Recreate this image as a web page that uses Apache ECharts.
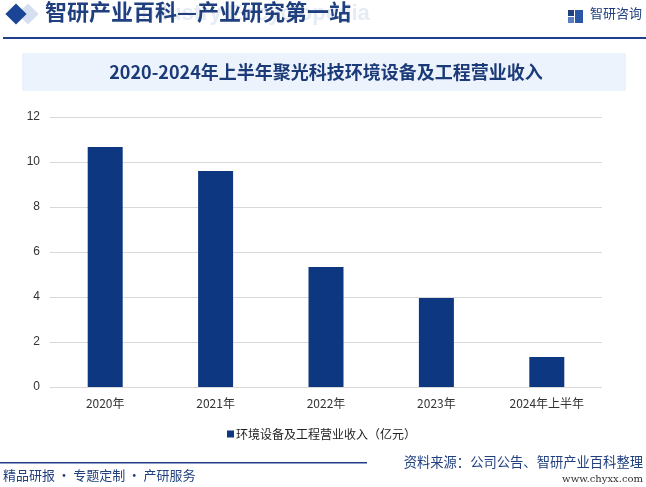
<!DOCTYPE html>
<html>
<head>
<meta charset="utf-8">
<script src="https://cdn.jsdelivr.net/npm/echarts@6/dist/echarts.min.js"></script>
<style>
html,body{margin:0;padding:0;background:#fff;}
#c{width:646px;height:487px;}
</style>
</head>
<body>
<div id="c"></div>
<script>
var categories = ['2020年', '2021年', '2022年', '2023年', '2024年上半年'];
var revenue = [10.67, 9.6, 5.33, 3.96, 1.33];
var seriesName = '环境设备及工程营业收入（亿元）';
var yTicks = {min: 0, max: 12, interval: 2};

var CJK = '"Noto Sans CJK SC", "Noto Sans", sans-serif';
var chart = echarts.init(document.getElementById('c'));
chart.setOption({
  animation: false,
  backgroundColor: '#ffffff',
  grid: {left: 50, right: 44, top: 117, bottom: 100, containLabel: false},
  legend: {
    data: [seriesName],
    left: 222,
    top: 423,
    icon: 'rect',
    itemWidth: 7,
    itemHeight: 7,
    itemGap: 4,
    textStyle: {fontFamily: CJK, fontSize: 12, color: '#222', padding: [0,0,0,-3]}
  },
  xAxis: {
    type: 'category',
    data: categories,
    axisLine: {show: false},
    axisTick: {show: false},
    axisLabel: {fontFamily: CJK, fontSize: 12, color: '#333', margin: 10}
  },
  yAxis: {
    type: 'value',
    min: yTicks.min, max: yTicks.max, interval: yTicks.interval,
    axisLine: {show: false},
    axisTick: {show: false},
    axisLabel: {fontFamily: 'Arial, "Liberation Sans", sans-serif', fontSize: 12, color: '#333', margin: 10},
    splitLine: {lineStyle: {color: '#d9d9d9', width: 1}}
  },
  series: [{
    name: seriesName,
    type: 'bar',
    data: revenue,
    barWidth: 35,
    itemStyle: {color: '#0e3782'}
  }],
  graphic: [
    // header diamonds
    {type: 'rect', shape: {x: -7.5, y: -7.5, width: 15, height: 15}, x: 28, y: 14, rotation: Math.PI/4, style: {fill: '#d6dff0'}},
    {type: 'rect', shape: {x: -7.5, y: -7.5, width: 15, height: 15}, x: 16, y: 14, rotation: Math.PI/4, style: {fill: '#1a4597'}},
    // watermark
    {type: 'text', left: 135, top: 3, style: {text: 'Industry Encyclopedia', font: 'bold 22px Arial, "Liberation Sans", sans-serif', fill: '#e6ecf5'}},
    {type: 'text', left: 45, top: 1, style: {text: '智研产业百科—产业研究第一站', font: 'bold 22px "Noto Sans CJK SC", sans-serif', fill: '#1f3f7e'}},
    // logo
    {type: 'rect', shape: {x: 568, y: 10, width: 6, height: 6}, style: {fill: '#1f3f7e'}},
    {type: 'rect', shape: {x: 568, y: 17, width: 6, height: 6}, style: {fill: '#5a7fc0'}},
    {type: 'rect', shape: {x: 575, y: 10, width: 8, height: 13}, style: {fill: '#2a56a8'}},
    {type: 'text', left: 590, top: 7, style: {text: '智研咨询', font: '13px "Noto Sans CJK SC", sans-serif', fill: '#1f3f7e'}},
    {type: 'rect', shape: {x: 3, y: 37, width: 643, height: 2}, style: {fill: '#1f3f8a'}},
    // title box
    {type: 'rect', shape: {x: 22, y: 53, width: 604, height: 38}, style: {fill: '#edf3fc'}},
    {type: 'text', x: 326, y: 72, style: {text: '2020-2024年上半年聚光科技环境设备及工程营业收入', font: 'bold 18px "Noto Sans CJK SC", sans-serif', fill: '#1b3a78', align: 'center', verticalAlign: 'middle'}},
    // footer
    {type: 'rect', shape: {x: 0, y: 462, width: 367, height: 1.5}, style: {fill: '#1f3f8a'}},
    {type: 'text', left: 3, top: 469, style: {text: '精品研报\u2009·\u2009专题定制\u2009·\u2009产研服务', font: '13px "Noto Sans CJK SC", sans-serif', fill: '#1f3f7e'}},
    {type: 'text', right: 3, top: 455, style: {text: '资料来源：公司公告、智研产业百科整理', font: '13.3px "Noto Sans CJK SC", sans-serif', fill: '#1f3f7e'}},
    {type: 'text', right: 3, top: 474, style: {text: 'www.chyxx.com', font: '10px "DejaVu Serif", serif', fill: '#333'}}
  ]
});
</script>
</body>
</html>
